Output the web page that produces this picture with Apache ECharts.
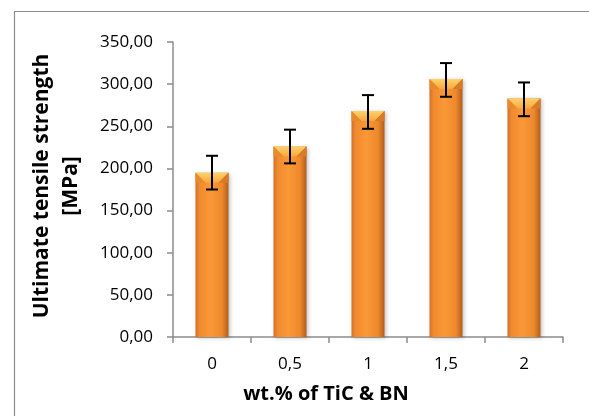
<!DOCTYPE html>
<html><head><meta charset="utf-8">
<script src="https://cdn.jsdelivr.net/npm/echarts@6/dist/echarts.min.js"></script>
<style>html,body{margin:0;padding:0;background:#fff}#c{width:589px;height:416px}</style>
</head><body><div id="c"></div>
<script>
var categories = ['0', '0,5', '1', '1,5', '2'];
var strength = [195, 226, 268, 306, 283];
var errorLow = [175, 206, 247, 285, 262];
var errorHigh = [215, 246, 287, 325, 302];

var chart = echarts.init(document.getElementById('c'), null, {renderer: 'canvas'});
var FONT = 'Open Sans';
var barGrad = new echarts.graphic.LinearGradient(0, 0, 1, 0, [
  {offset: 0, color: '#D0702A'},
  {offset: 0.12, color: '#F08A2E'},
  {offset: 0.45, color: '#FA9836'},
  {offset: 0.8, color: '#EE892C'},
  {offset: 1, color: '#B25E1E'}
]);
chart.setOption({
  animation: false,
  grid: {left: 173, right: 26, top: 42, bottom: 79},
  graphic: [
    {type: 'rect', shape: {x: 14.5, y: 11.5, width: 600, height: 430}, style: {fill: 'none', stroke: '#8c8c8c', lineWidth: 1.2}, silent: true, z: -10},
    {type: 'text', x: 42, y: 186, rotation: Math.PI / 2, style: {text: 'Ultimate tensile strength', font: 'bold 21px "' + FONT + '"', fill: '#000', align: 'center', verticalAlign: 'middle'}},
    {type: 'text', x: 71, y: 186, rotation: Math.PI / 2, style: {text: '[MPa]', font: 'bold 21px "' + FONT + '"', fill: '#000', align: 'center', verticalAlign: 'middle'}},
    {type: 'text', x: 326, y: 394, style: {text: 'wt.% of TiC & BN', font: 'bold 20px "' + FONT + '"', fill: '#000', align: 'center', verticalAlign: 'middle'}}
  ],
  xAxis: {
    type: 'category', data: categories,
    axisLine: {lineStyle: {color: '#8c8c8c', width: 1.5}},
    axisTick: {show: true, alignWithLabel: false, length: 6, lineStyle: {color: '#8c8c8c', width: 1.5}},
    axisLabel: {color: '#000', fontFamily: FONT, fontSize: 17, margin: 19}
  },
  yAxis: {
    type: 'value', min: 0, max: 350, interval: 50,
    axisLine: {show: true, lineStyle: {color: '#8c8c8c', width: 1.5}},
    axisTick: {show: true, length: 6, lineStyle: {color: '#8c8c8c', width: 1.5}},
    splitLine: {show: false},
    axisLabel: {color: '#000', fontFamily: FONT, fontSize: 17, margin: 20,
      formatter: function (v) { return v.toFixed(2).replace('.', ','); }}
  },
  series: [
    {
      type: 'bar', data: strength, barWidth: 33,
      itemStyle: {color: barGrad, shadowColor: 'rgba(0,0,0,0.25)', shadowBlur: 4, shadowOffsetX: 1, shadowOffsetY: 1},
      z: 2
    },
    {
      type: 'custom', z: 3,
      data: strength.map(function (v, i) { return [i, v]; }),
      renderItem: function (params, api) {
        var top = api.coord([api.value(0), api.value(1)]);
        var w = 33, h = 10;
        var x0 = top[0] - w / 2, x1 = top[0] + w / 2, y = top[1];
        return {type: 'group', children: [
          {type: 'polygon', shape: {points: [[x0, y], [x1, y], [x1 - h, y + h], [x0 + h, y + h]]},
           style: {fill: new echarts.graphic.LinearGradient(0, 0, 0, 1, [{offset: 0, color: '#FCD36A'}, {offset: 1, color: '#F9A63E'}])}},
          {type: 'polygon', shape: {points: [[x0, y], [x0 + h, y + h], [x0, y + h]]}, style: {fill: '#E9892E'}},
          {type: 'polygon', shape: {points: [[x1, y], [x1 - h, y + h], [x1, y + h]]}, style: {fill: '#D97A26'}}
        ]};
      }
    },
    {
      type: 'custom', z: 5,
      data: errorLow.map(function (v, i) { return [i, v, errorHigh[i]]; }),
      renderItem: function (params, api) {
        var lo = api.coord([api.value(0), api.value(1)]);
        var hi = api.coord([api.value(0), api.value(2)]);
        var c = 6;
        var st = {stroke: '#000', lineWidth: 2};
        return {type: 'group', children: [
          {type: 'line', shape: {x1: lo[0], y1: lo[1], x2: hi[0], y2: hi[1]}, style: st},
          {type: 'line', shape: {x1: lo[0] - c, y1: lo[1], x2: lo[0] + c, y2: lo[1]}, style: st},
          {type: 'line', shape: {x1: hi[0] - c, y1: hi[1], x2: hi[0] + c, y2: hi[1]}, style: st}
        ]};
      }
    }
  ]
});
</script></body></html>
